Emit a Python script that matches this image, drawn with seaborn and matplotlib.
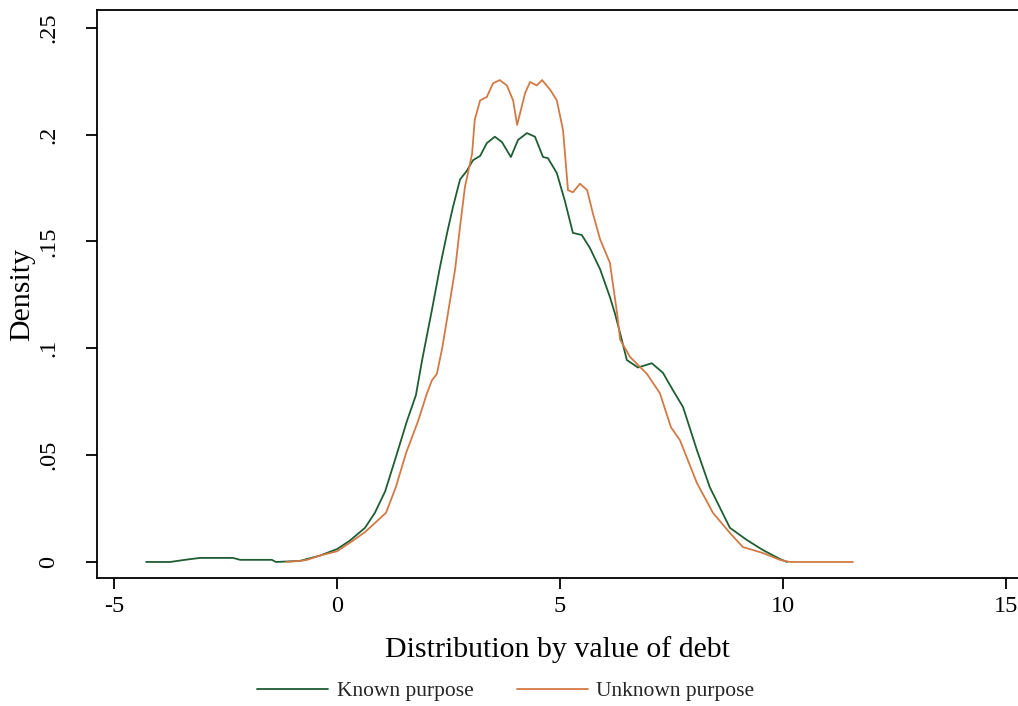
import matplotlib
matplotlib.use("Agg")
import matplotlib.pyplot as plt
import seaborn as sns
import pandas as pd
from matplotlib.lines import Line2D

# ---- data ----
known_x = [-4.28, -3.74, -3.41, -3.07, -2.33, -2.17, -1.46, -1.37, -0.83, -0.38, 0.0, 0.29, 0.63,
           0.85, 1.08, 1.32, 1.57, 1.77, 1.91, 2.13, 2.31, 2.47, 2.60, 2.76, 2.91, 3.05, 3.21, 3.36,
           3.54, 3.70, 3.90, 4.06, 4.26, 4.44, 4.62, 4.73, 4.93, 5.11, 5.29, 5.49, 5.67, 5.90,
           6.12, 6.23, 6.35, 6.50, 6.75, 7.06, 7.31, 7.53, 7.76, 8.07, 8.36, 8.81, 9.19, 9.55,
           9.93, 10.09]
known_y = [0.0, 0.0, 0.001, 0.0019, 0.0019, 0.001, 0.001, 0.0, 0.0005, 0.003, 0.006, 0.010, 0.016,
           0.023, 0.033, 0.049, 0.066, 0.078, 0.0945, 0.118, 0.138, 0.154, 0.166, 0.179, 0.183, 0.188, 0.190, 0.196,
           0.199, 0.1965, 0.1895, 0.1975, 0.2007, 0.199, 0.1895, 0.189, 0.182, 0.169, 0.154, 0.153, 0.147, 0.137,
           0.124, 0.1165, 0.107, 0.0945, 0.091, 0.093, 0.0885, 0.0805, 0.0725, 0.0524, 0.035, 0.016, 0.0103, 0.0056,
           0.0014, 0.0]

unknown_x = [-1.14, -0.83, -0.67, -0.38, 0.0, 0.29, 0.63, 1.10, 1.32, 1.55, 1.82, 2.02, 2.13, 2.24,
             2.36, 2.49, 2.65, 2.76, 2.87, 3.03, 3.09, 3.21, 3.36, 3.50, 3.65, 3.81, 3.95, 4.04,
             4.22, 4.33, 4.48, 4.60, 4.78, 4.93, 5.07, 5.18, 5.29, 5.45, 5.61, 5.74, 5.90, 6.12,
             6.28, 6.35, 6.57, 6.95, 7.24, 7.49, 7.69, 8.07, 8.43, 8.81, 9.10, 9.55, 9.93, 10.16,
             11.57]
unknown_y = [0.0, 0.0005, 0.001, 0.003, 0.005, 0.009, 0.014, 0.023, 0.035, 0.051, 0.066, 0.079, 0.085, 0.088,
             0.100, 0.1165, 0.137, 0.157, 0.1755, 0.191, 0.207, 0.216, 0.2176, 0.224, 0.2255, 0.223, 0.216, 0.2045,
             0.2195, 0.2246, 0.223, 0.2255, 0.221, 0.216, 0.202, 0.174, 0.173, 0.177, 0.174, 0.163, 0.151, 0.140,
             0.1165, 0.104, 0.096, 0.088, 0.079, 0.063, 0.057, 0.037, 0.023, 0.0136, 0.007, 0.0042, 0.001, 0.0,
             0.0]

series_labels = ["Known purpose", "Unknown purpose"]
x_ticks = [-5, 0, 5, 10, 15]
x_ticklabels = ["-5", "0", "5", "10", "15"]
y_ticks = [0, 0.05, 0.1, 0.15, 0.2, 0.25]
y_ticklabels = ["0", ".05", ".1", ".15", ".2", ".25"]

sns.set_theme(style="white")
plt.rcParams["font.family"] = ["Liberation Serif", "DejaVu Serif"]

GREEN = "#1e5e32"
ORANGE = "#d27a45"

fig = plt.figure(figsize=(10.18, 7.06), dpi=100)
ax = fig.add_axes([97 / 1018, 128 / 706, 940 / 1018, 568 / 706])

df_k = pd.DataFrame({"x": known_x, "y": known_y})
df_u = pd.DataFrame({"x": unknown_x, "y": unknown_y})
sns.lineplot(data=df_k, x="x", y="y", ax=ax, color=GREEN, linewidth=1.3, sort=False, estimator=None)
sns.lineplot(data=df_u, x="x", y="y", ax=ax, color=ORANGE, linewidth=1.3, sort=False, estimator=None)

ax.set_xlim(-5.38, -5.38 + 940 / 44.6)
ax.set_ylim(-0.0075, 0.2583)
ax.set_xticks(x_ticks)
ax.set_xticklabels(x_ticklabels)
ax.set_yticks(y_ticks)
ax.set_yticklabels(y_ticklabels, rotation=90, va="center")
for s in ax.spines.values():
    s.set_color("black")
    s.set_linewidth(1.3)
ax.spines["right"].set_visible(False)
ax.tick_params(axis="both", direction="out", length=8, width=1.3, color="black",
               labelsize=17.5, bottom=True, left=True, colors="black")
ax.tick_params(axis="x", pad=5)
ax.tick_params(axis="y", pad=19)
ax.set_xlabel("Distribution by value of debt", fontsize=21.5, color="black")
ax.set_ylabel("Density", fontsize=21.5, color="black")
ax.xaxis.set_label_coords(0.49, -0.102)
ax.yaxis.set_label_coords(-0.066, 0.5)

handles = [Line2D([], [], color=GREEN, linewidth=1.3),
           Line2D([], [], color=ORANGE, linewidth=1.3)]
fig.legend(handles, series_labels, loc="center", bbox_to_anchor=(0.497, 0.021), ncol=2,
           frameon=False, fontsize=15.5, handlelength=3.3, columnspacing=2.0, handletextpad=0.4)

fig.savefig("out.png", dpi=100)
